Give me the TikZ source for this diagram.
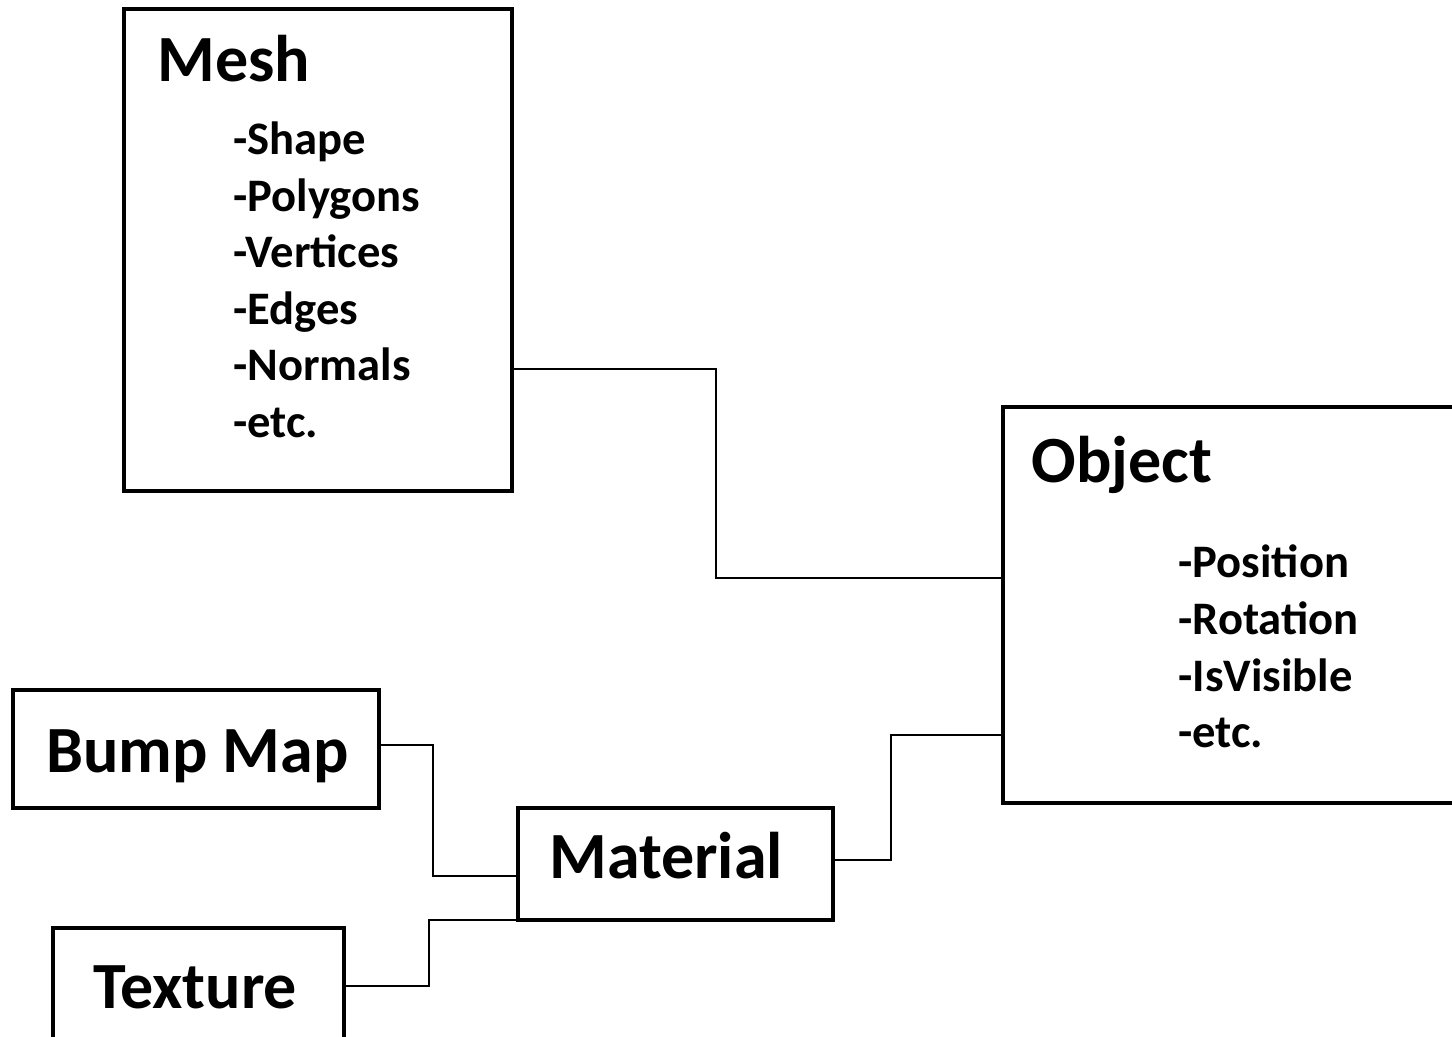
\documentclass[tikz,border=0pt]{standalone}
\usepackage{fontspec}
\setmainfont{Carlito}
\begin{document}
\begin{tikzpicture}[x=0.5pt,y=-0.5pt,
  box/.style={draw=black,line width=2pt,fill=white,inner sep=0pt,outer sep=0pt,anchor=north west},
  wire/.style={draw=black,line width=1pt},
  title/.style={anchor=base west,inner sep=0pt,font=\fontsize{33}{40}\selectfont\bfseries},
  item/.style={anchor=base west,inner sep=0pt,font=\fontsize{23.3}{28}\selectfont\bfseries}]
\useasboundingbox (0,0) rectangle (1452,1037);
\clip (0,0) rectangle (1452,1037);

% boxes
\node[box,minimum width=194pt,minimum height=241pt] (mesh) at (124,9) {};
\node[box,minimum width=240pt,minimum height=198pt] (obj) at (1003,407) {};
\node[box,minimum width=183pt,minimum height=59pt] (bump) at (13,690) {};
\node[box,minimum width=157.5pt,minimum height=56pt] (mat) at (518,808) {};
\node[box,minimum width=145.5pt,minimum height=70pt] (tex) at (53,928) {};

% titles
\node[title] (meshT) at (157,82) {Mesh};
\node[title] (objT) at (1031,483) {Object};
\node[title] (bumpT) at (46,772) {Bump Map};
\node[title] (matT) at (549,878) {Material};
\node[title] (texT) at (93,1008) {Texture};

% attribute lists
\foreach \t [count=\i] in {-Shape,-Polygons,-Vertices,-Edges,-Normals,-etc.}
  \node[item] (meshI\i) at (233,{155+56.5*(\i-1)}) {\t};
\foreach \t [count=\i] in {-Position,-Rotation,-IsVisible,-etc.}
  \node[item] (objI\i) at (1178,{578+56.5*(\i-1)}) {\t};

% connectors
\draw[wire] (mesh.east |- 0,369) -- (716,369) |- (obj.west |- 0,578);
\draw[wire] (obj.west |- 0,735) -- (891,735) |- (mat.east |- 0,860);
\draw[wire] (bump.east |- 0,745) -- (433,745) |- (mat.west |- 0,876);
\draw[wire] (tex.east |- 0,986) -- (429,986) |- (mat.south west);
\end{tikzpicture}
\end{document}
